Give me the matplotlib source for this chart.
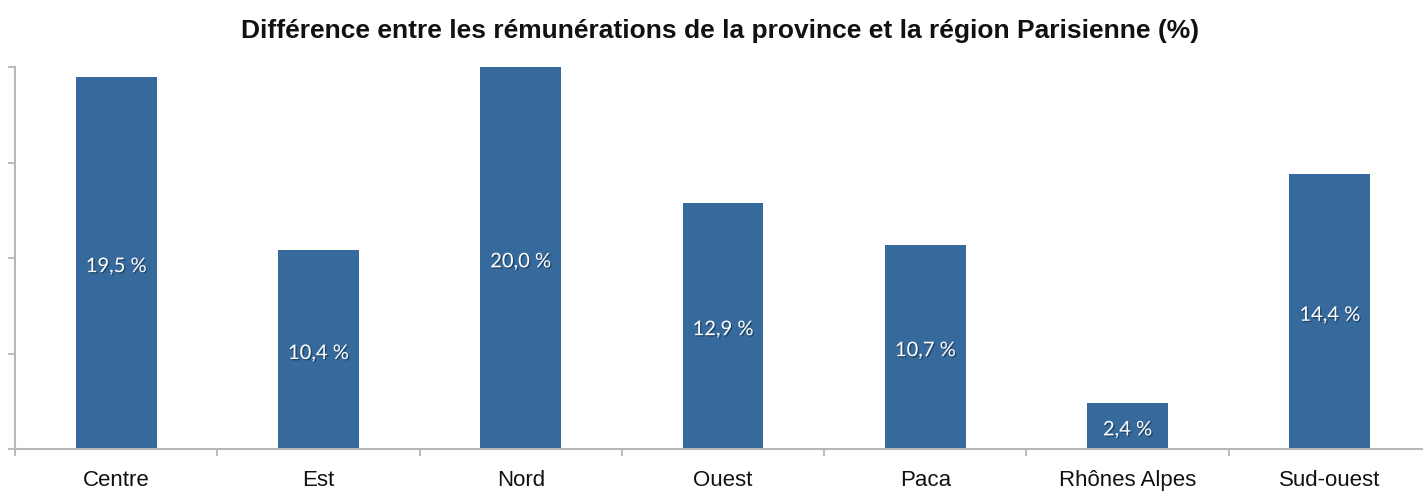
import matplotlib
matplotlib.use("Agg")
import matplotlib.pyplot as plt
import matplotlib.patheffects as pe

categories = ["Centre", "Est", "Nord", "Ouest", "Paca", "Rhônes Alpes", "Sud-ouest"]
values = [19.5, 10.4, 20.0, 12.9, 10.7, 2.4, 14.4]
labels = ["19,5 %", "10,4 %", "20,0 %", "12,9 %", "10,7 %", "2,4 %", "14,4 %"]
title = "Différence entre les rémunérations de la province et la région Parisienne (%)"

W, H = 1423, 493
fig = plt.figure(figsize=(W / 100, H / 100), dpi=100)
fig.patch.set_facecolor("white")
ax = fig.add_axes([15 / W, 44 / H, 1416 / W, 382 / H])

x = list(range(len(categories)))
ax.bar(x, values, width=0.40, color="#376a9c", zorder=2)

ax.set_xlim(-0.5, len(categories) - 0.5)
ax.set_ylim(0, 20)
ax.set_yticks([0, 5, 10, 15, 20])
ax.set_yticklabels([])

ax.set_xticks(x)
ax.set_xticklabels(categories, fontsize=16, family="Liberation Sans", color="#111111")
ax.tick_params(axis="x", length=0, pad=15)
ax.set_xticks([i + 0.5 for i in range(-1, len(categories))], minor=True)
ax.tick_params(axis="x", which="minor", length=5, color="#b0b0b0", width=1.2)
ax.tick_params(axis="y", length=5, color="#b0b0b0", width=1.2, direction="out")

for s in ["top", "right"]:
    ax.spines[s].set_visible(False)
for s in ["left", "bottom"]:
    ax.spines[s].set_color("#b8b8b8")
    ax.spines[s].set_linewidth(1.5)

for xi, v, lab in zip(x, values, labels):
    ax.text(xi, v / 2 - 0.2, lab, ha="center", va="center", color="white",
            fontsize=14.5, family="Lato",
            path_effects=[pe.SimplePatchShadow(offset=(1, -1), shadow_rgbFace="black", alpha=0.35),
                          pe.Normal()])

fig.text(0.5063, 1 - 31 / H, title, ha="center", va="center", fontsize=19,
         fontweight="bold", family="Liberation Sans", color="#111111")

fig.savefig("out.png", dpi=100)
